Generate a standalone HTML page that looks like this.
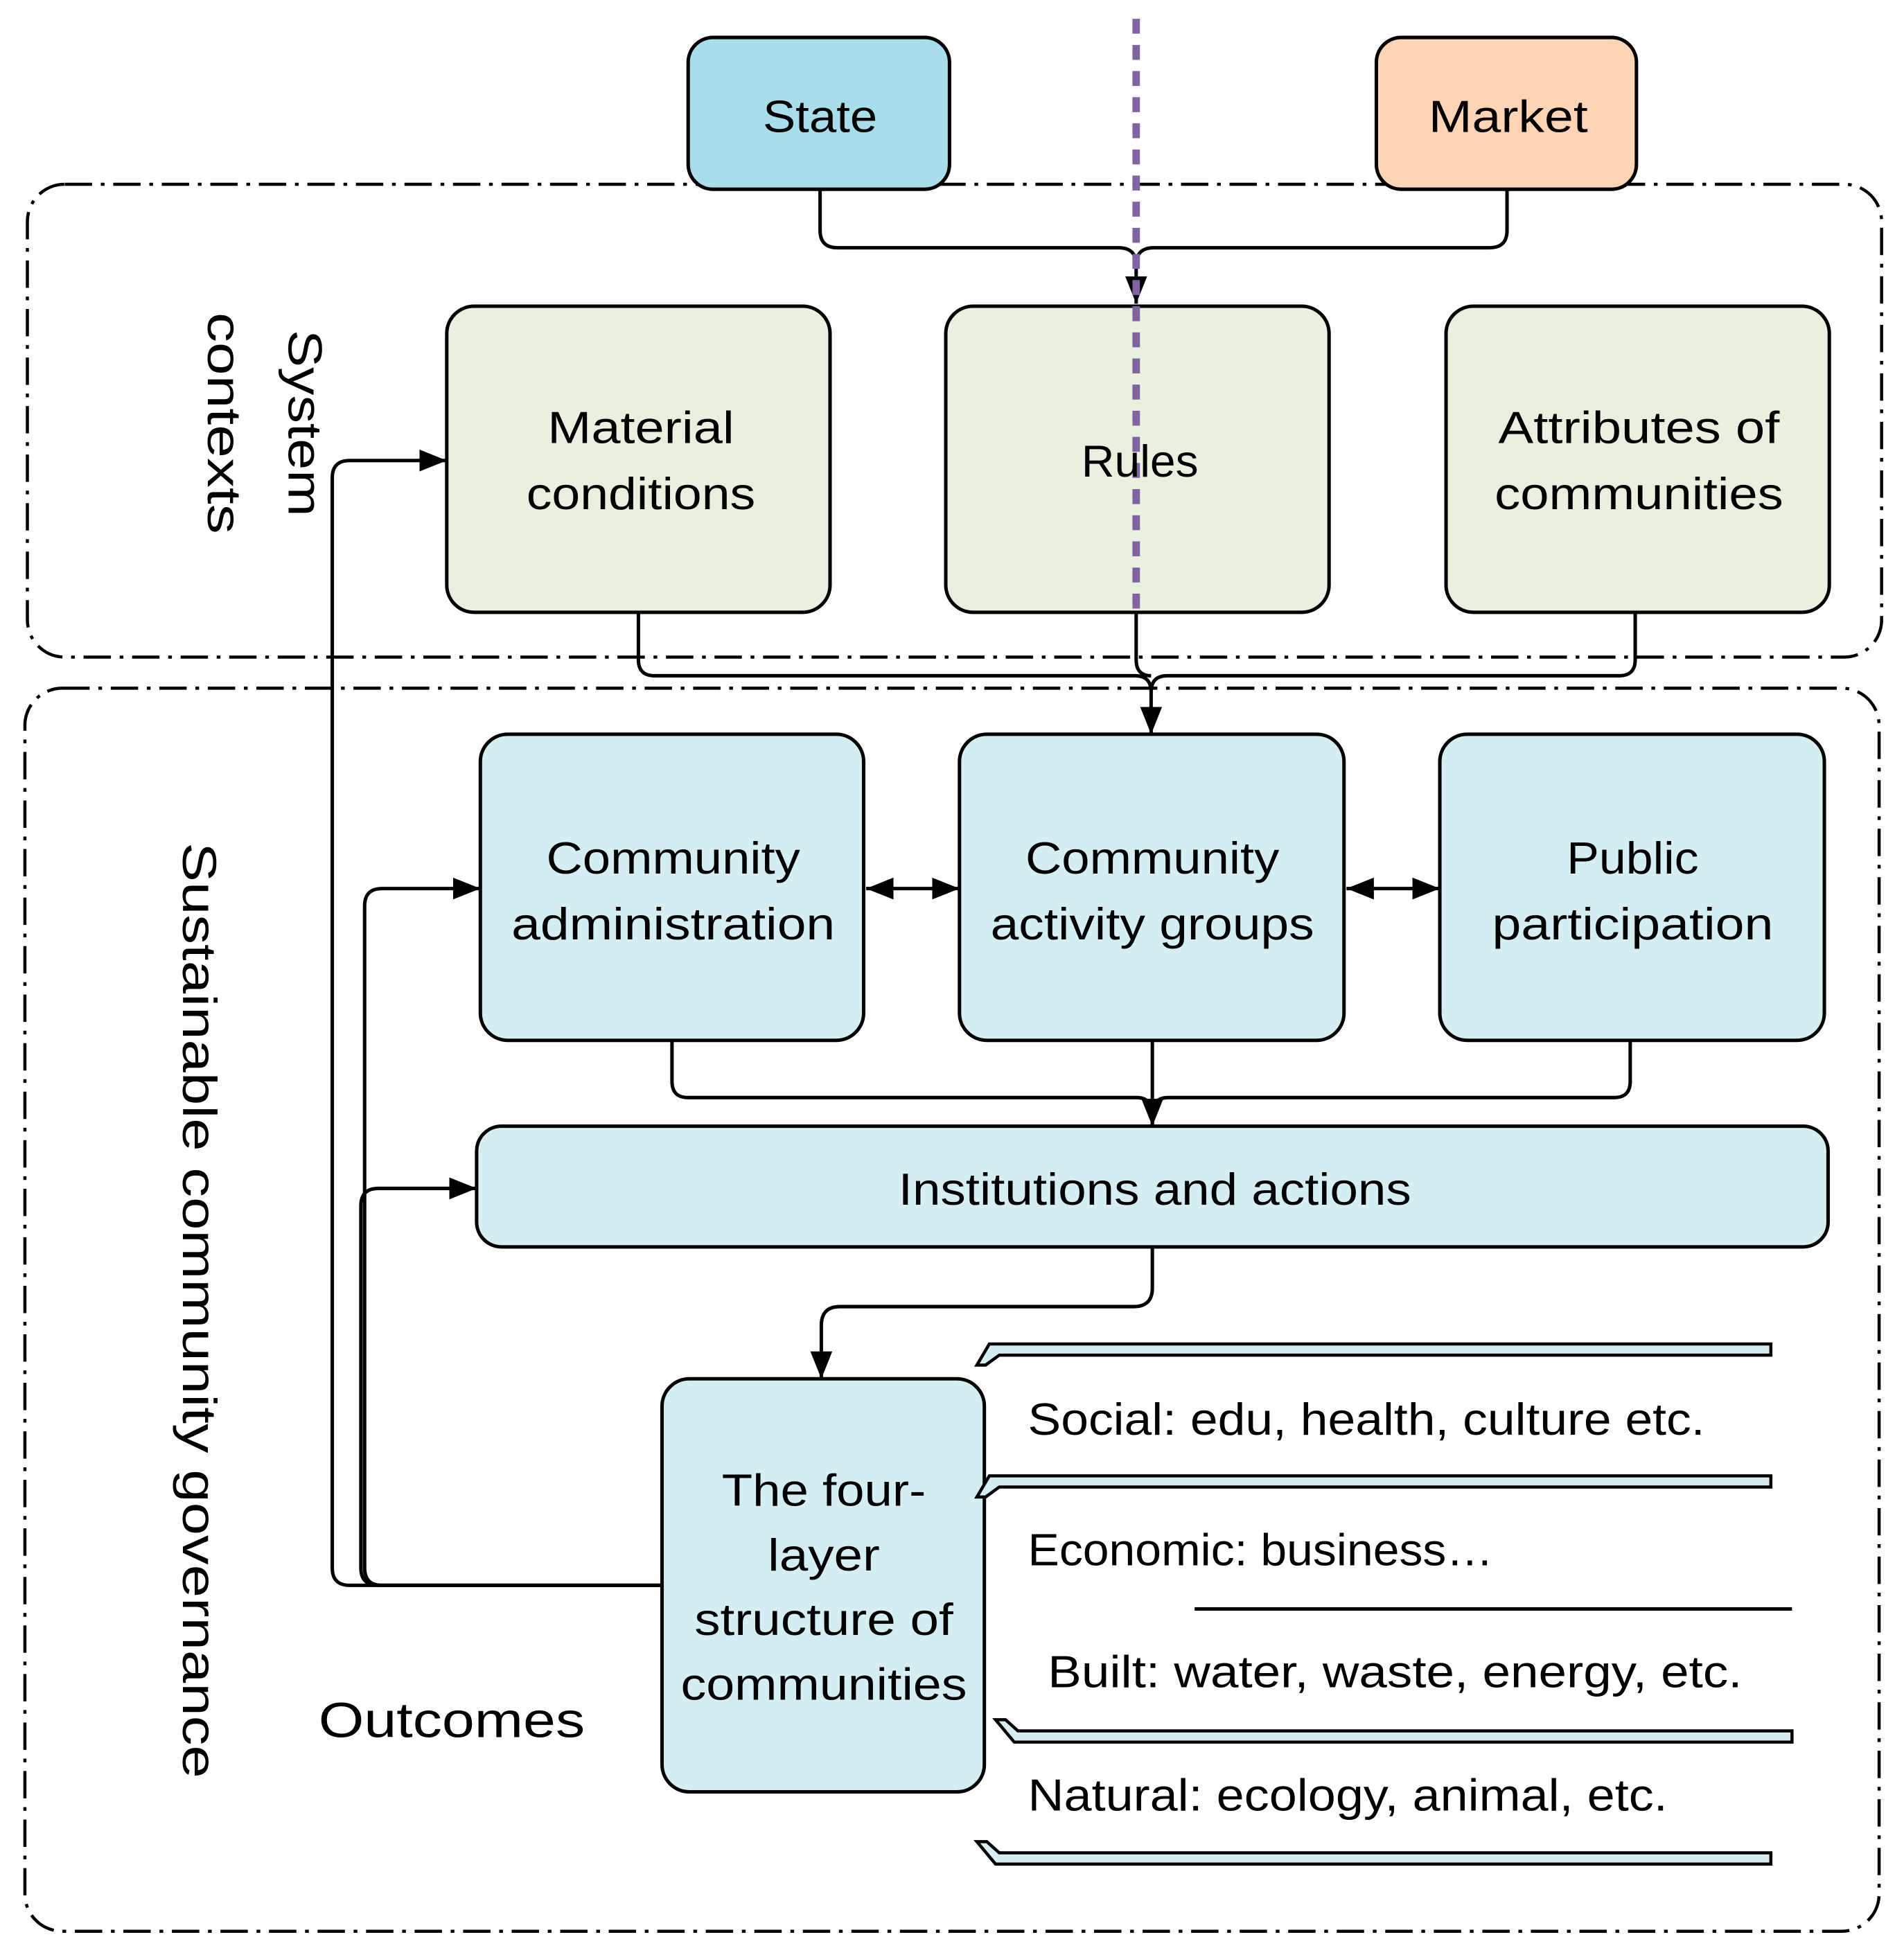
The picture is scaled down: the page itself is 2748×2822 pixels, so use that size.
<!DOCTYPE html>
<html><head><meta charset="utf-8"><style>
html,body{margin:0;padding:0;background:#fff}
svg{display:block}
text{font-family:"Liberation Sans",sans-serif;fill:#000}
</style></head><body>
<svg width="2748" height="2822" viewBox="0 0 1530 1571" xmlns="http://www.w3.org/2000/svg">
<defs>
<marker id="b" viewBox="0 0 10 10" refX="10" refY="5" markerWidth="22" markerHeight="22" markerUnits="userSpaceOnUse" orient="auto-start-reverse"><path d="M0,1L10,5L0,9z" fill="#000"/></marker>
</defs>
<g fill="none" stroke="#000" stroke-width="2.5" stroke-dasharray="22 7 3 7">
<rect x="22" y="148" width="1490" height="380" rx="30"/>
<rect x="20" y="553" width="1490" height="999" rx="30"/>
</g>
<g stroke="#000" stroke-width="2.8">
<rect x="553" y="30" width="210" height="122" rx="20" fill="#A8DEE9"/>
<rect x="1106" y="30" width="209" height="122" rx="20" fill="#FDD5B5"/>
<rect x="359" y="246" width="308" height="246" rx="22" fill="#E9F0DF"/>
<rect x="760" y="246" width="308" height="246" rx="22" fill="#E9F0DF"/>
<rect x="1162" y="246" width="308" height="246" rx="22" fill="#E9F0DF"/>
<rect x="386" y="590" width="308" height="246" rx="22" fill="#D5EEF2"/>
<rect x="771" y="590" width="309" height="246" rx="22" fill="#D5EEF2"/>
<rect x="1157" y="590" width="309" height="246" rx="22" fill="#D5EEF2"/>
<rect x="383" y="905" width="1086" height="97" rx="20" fill="#D5EEF2"/>
<rect x="532" y="1108" width="259" height="332" rx="22" fill="#D5EEF2"/>
</g>
<g fill="none" stroke="#000" stroke-width="2.8">
<path d="M659,152V185q0,14 14,14H899q14,0 14,14V244" marker-end="url(#b)"/>
<path d="M1211,152V185q0,14 -14,14H927q-14,0 -14,14"/>
<path d="M513,492V530q0,13 13,13H912q13,0 13,13V590" marker-end="url(#b)"/>
<path d="M913,492V530q0,13 12,13"/>
<path d="M1314,492V530q0,13 -13,13H938q-13,0 -13,13"/>
<path d="M696,714H771" marker-start="url(#b)" marker-end="url(#b)"/>
<path d="M1082,714H1157" marker-start="url(#b)" marker-end="url(#b)"/>
<path d="M540,836V869q0,13 13,13H913q13,0 13,13V905" marker-end="url(#b)"/>
<path d="M926,836V905"/>
<path d="M1310,836V869q0,13 -13,13H939q-13,0 -13,13"/>
<path d="M926,1002V1035q0,15 -15,15H675q-15,0 -15,15V1108" marker-end="url(#b)"/>
<path d="M532,1274H281q-14,0 -14,-14V384q0,-14 14,-14H359" marker-end="url(#b)"/>
<path d="M532,1274H307q-14,0 -14,-14V728q0,-14 14,-14H386" marker-end="url(#b)"/>
<path d="M532,1274H304q-14,0 -14,-14V969q0,-14 14,-14H383" marker-end="url(#b)"/>
</g>
<line x1="913" y1="15" x2="913" y2="495" stroke="#8064A2" stroke-width="6" stroke-dasharray="12 9"/>
<g fill="#D5EEF2" stroke="#000" stroke-width="2.5">
<path d="M795,1080H1423V1089H803L792,1097H785Z"/>
<path d="M795,1186H1423V1195H803L792,1203H785Z"/>
<path d="M800,1382H808L818,1391H1440V1400H815Z"/>
<path d="M785,1480H793L803,1489H1423V1498H800Z"/>
</g>
<line x1="960" y1="1293" x2="1440" y2="1293" stroke="#000" stroke-width="2.8"/>
<g font-size="36" text-anchor="middle">
<text x="659" y="106" textLength="92" lengthAdjust="spacingAndGlyphs">State</text>
<text x="1212" y="106" textLength="128" lengthAdjust="spacingAndGlyphs">Market</text>
<text x="515" y="356" textLength="150" lengthAdjust="spacingAndGlyphs">Material</text>
<text x="515" y="409" textLength="184" lengthAdjust="spacingAndGlyphs">conditions</text>
<text x="916" y="383" textLength="94" lengthAdjust="spacingAndGlyphs">Rules</text>
<text x="1317" y="356" textLength="226" lengthAdjust="spacingAndGlyphs">Attributes of</text>
<text x="1317" y="409" textLength="232" lengthAdjust="spacingAndGlyphs">communities</text>
<text x="541" y="702" textLength="204" lengthAdjust="spacingAndGlyphs">Community</text>
<text x="541" y="755" textLength="260" lengthAdjust="spacingAndGlyphs">administration</text>
<text x="926" y="702" textLength="204" lengthAdjust="spacingAndGlyphs">Community</text>
<text x="926" y="755" textLength="260" lengthAdjust="spacingAndGlyphs">activity groups</text>
<text x="1312" y="702" textLength="106" lengthAdjust="spacingAndGlyphs">Public</text>
<text x="1312" y="755" textLength="226" lengthAdjust="spacingAndGlyphs">participation</text>
<text x="928" y="968" textLength="412" lengthAdjust="spacingAndGlyphs">Institutions and actions</text>
<text x="662" y="1210" textLength="164" lengthAdjust="spacingAndGlyphs">The four-</text>
<text x="662" y="1262" textLength="90" lengthAdjust="spacingAndGlyphs">layer</text>
<text x="662" y="1314" textLength="208" lengthAdjust="spacingAndGlyphs">structure of</text>
<text x="662" y="1366" textLength="230" lengthAdjust="spacingAndGlyphs">communities</text>
</g>
<g font-size="36">
<text x="826" y="1153" textLength="544" lengthAdjust="spacingAndGlyphs">Social: edu, health, culture etc.</text>
<text x="826" y="1258" textLength="374" lengthAdjust="spacingAndGlyphs">Economic: business…</text>
<text x="842" y="1356" textLength="558" lengthAdjust="spacingAndGlyphs">Built: water, waste, energy, etc.</text>
<text x="826" y="1455" textLength="514" lengthAdjust="spacingAndGlyphs">Natural: ecology, animal, etc.</text>
<text x="256" y="1396" font-size="40" textLength="214" lengthAdjust="spacingAndGlyphs">Outcomes</text>
</g>
<g font-size="38" text-anchor="middle">
<text transform="translate(232,340) rotate(90)" textLength="150" lengthAdjust="spacingAndGlyphs">System</text>
<text transform="translate(167,340) rotate(90)" textLength="178" lengthAdjust="spacingAndGlyphs">contexts</text>
<text transform="translate(147,1053) rotate(90)" textLength="752" lengthAdjust="spacingAndGlyphs">Sustainable community governance</text>
</g>
</svg>
</body></html>
